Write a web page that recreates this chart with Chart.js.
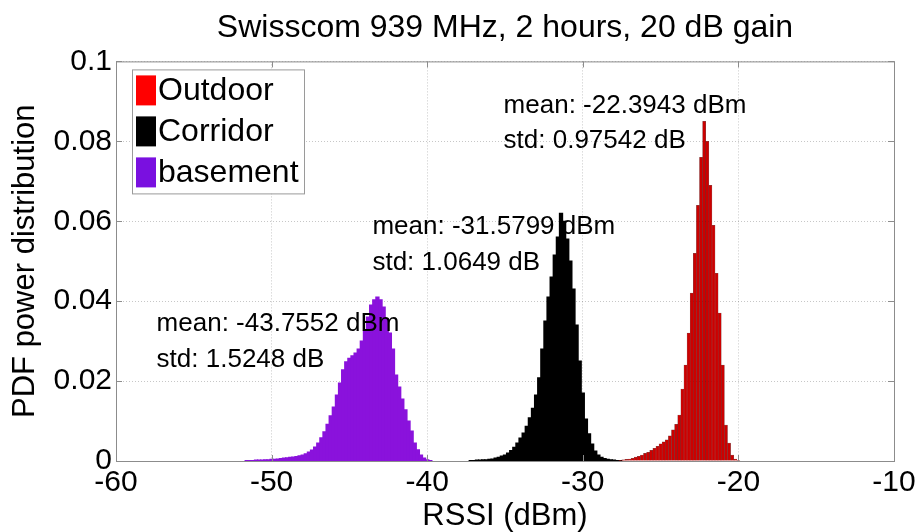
<!DOCTYPE html>
<html>
<head>
<meta charset="utf-8">
<script src="https://cdn.jsdelivr.net/npm/chart.js@4"></script>
<style>
  html, body { margin: 0; padding: 0; background: #fff; }
</style>
</head>
<body>
<canvas id="histChart" width="915" height="532"></canvas>
<script>
// === histogram data (PDF per 0.2 dB bin) ===
const binWidth = 0.2;
const seriesLabels = ['Outdoor', 'Corridor', 'basement'];
const seriesColors = ['#cc0000', '#000000', '#8a12dc'];
const legendColors = ['#ff0000', '#000000', '#7a10e0'];

// bin centres start at these values, one value per bin
const outdoorStart = -27.6;
const outdoorPdf = [
  0.0002, 0.0003, 0.0004, 0.0005, 0.0007, 0.0010, 0.0012, 0.0015, 0.0019, 0.0022,
  0.0027, 0.0032, 0.0037, 0.0043, 0.0048, 0.0053, 0.0063, 0.0078, 0.0092, 0.0115,
  0.0180, 0.0240, 0.0320, 0.0420, 0.0520, 0.0640, 0.0760, 0.0850, 0.0800, 0.0690,
  0.0590, 0.0470, 0.0370, 0.0240, 0.0090, 0.0045, 0.0015, 0.0005, 0.0002
];

const corridorStart = -37.2;
const corridorPdf = [
  0.0001, 0.0001, 0.0002, 0.0002, 0.0003, 0.0003, 0.0004, 0.0005, 0.0007, 0.0009,
  0.0012, 0.0015, 0.0020, 0.0026, 0.0034, 0.0045, 0.0057, 0.0070, 0.0087, 0.0108,
  0.0132, 0.0165, 0.0208, 0.0280, 0.0350, 0.0410, 0.0460, 0.0515, 0.0560, 0.0620,
  0.0600, 0.0555, 0.0500, 0.0430, 0.0340, 0.0250, 0.0170, 0.0105, 0.0068, 0.0042,
  0.0025, 0.0015, 0.0009, 0.0006, 0.0004, 0.0003, 0.0002, 0.0001, 0.0001
];

const basementStart = -51.6;
const basementPdf = [
  0.0001, 0.0001, 0.0001, 0.0002, 0.0002, 0.0002, 0.0003, 0.0003, 0.0004, 0.0004,
  0.0005, 0.0006, 0.0007, 0.0008, 0.0009, 0.0010, 0.0011, 0.0013, 0.0015, 0.0018,
  0.0022, 0.0027, 0.0035, 0.0045, 0.0058, 0.0073, 0.0092, 0.0113, 0.0135, 0.0165,
  0.0195, 0.0228, 0.0248, 0.0257, 0.0263, 0.0270, 0.0280, 0.0300, 0.0325, 0.0360,
  0.0390, 0.0403, 0.0410, 0.0403, 0.0385, 0.0355, 0.0320, 0.0280, 0.0215, 0.0185,
  0.0155, 0.0128, 0.0100, 0.0075, 0.0045, 0.0028, 0.0015, 0.0007, 0.0003, 0.0001
];

const xTickLabels = ['-60', '-50', '-40', '-30', '-20', '-10'];
const yTickLabels = ['0', '0.02', '0.04', '0.06', '0.08', '0.1'];

// text notes, anchored in data units (left edge, middle of line)
const notes = [
  { x: -35.09, y: 0.0888, text: 'mean: -22.3943 dBm' },
  { x: -35.09, y: 0.0800, text: 'std: 0.97542 dB' },
  { x: -43.52, y: 0.0585, text: 'mean: -31.5799 dBm' },
  { x: -43.52, y: 0.0496, text: 'std: 1.0649 dB' },
  { x: -57.39, y: 0.0343, text: 'mean: -43.7552 dBm' },
  { x: -57.39, y: 0.0253, text: 'std: 1.5248 dB' }
];

const FONT = "'Liberation Sans', Arial, sans-serif";
Chart.defaults.font.family = FONT;
Chart.defaults.color = '#000';

function toBins(start, values) {
  return values.map((v, i) => ({ x: +(start + i * binWidth).toFixed(1), y: v }));
}

// === axes frame + inward ticks (matlab style box) ===
const boxPlugin = {
  id: 'box',
  afterDatasetsDraw(chart) {
    const { ctx, chartArea: a, scales: { x, y } } = chart;
    ctx.save();
    ctx.strokeStyle = '#8c8c8c';
    ctx.lineWidth = 1;
    ctx.strokeRect(a.left + 0.5, a.top + 0.5, a.right - a.left, a.bottom - a.top);
    ctx.beginPath();
    x.ticks.forEach(t => {
      const px = Math.round(x.getPixelForValue(t.value)) + 0.5;
      ctx.moveTo(px, a.bottom); ctx.lineTo(px, a.bottom - 6);
      ctx.moveTo(px, a.top); ctx.lineTo(px, a.top + 6);
    });
    y.ticks.forEach(t => {
      const py = Math.round(y.getPixelForValue(t.value)) + 0.5;
      ctx.moveTo(a.left, py); ctx.lineTo(a.left + 6, py);
      ctx.moveTo(a.right, py); ctx.lineTo(a.right - 6, py);
    });
    ctx.stroke();

    // mean / std notes
    ctx.fillStyle = '#000';
    ctx.font = '26px ' + FONT;
    ctx.textAlign = 'left';
    ctx.textBaseline = 'middle';
    notes.forEach(n => ctx.fillText(n.text, x.getPixelForValue(n.x), y.getPixelForValue(n.y)));
    ctx.restore();
  }
};

// === legend box inside the axes, top-left ===
const boxLegend = {
  id: 'boxLegend',
  afterDraw(chart) {
    const { ctx, chartArea: a } = chart;
    const bx = a.left + 16, by = a.top + 8, bw = 172, bh = 124;
    ctx.save();
    ctx.fillStyle = '#fff';
    ctx.fillRect(bx, by, bw, bh);
    ctx.strokeStyle = '#9a9a9a';
    ctx.lineWidth = 1;
    ctx.strokeRect(bx + 0.5, by + 0.5, bw, bh);
    ctx.font = '32px ' + FONT;
    ctx.textBaseline = 'middle';
    chart.data.datasets.forEach((ds, i) => {
      const cy = by + 21 + i * 41;
      ctx.fillStyle = legendColors[i];
      ctx.fillRect(bx + 4, cy - 15, 20, 30);
      ctx.fillStyle = '#000';
      ctx.fillText(ds.label, bx + 26, cy + 1);
    });
    ctx.restore();
  }
};

const barCommon = { grouped: false, barPercentage: 1, categoryPercentage: 1 };

const histCtx = document.getElementById('histChart').getContext('2d');

const histChart = new Chart(histCtx, {
  type: 'bar',
  data: {
    datasets: [
      {
        ...barCommon,
        label: seriesLabels[0],
        data: toBins(outdoorStart, outdoorPdf),
        backgroundColor: seriesColors[0],
        borderColor: 'rgba(70,0,0,0.7)',
        borderWidth: 0.5,
        inflateAmount: 0.3
      },
      {
        ...barCommon,
        label: seriesLabels[1],
        data: toBins(corridorStart, corridorPdf),
        backgroundColor: seriesColors[1],
        borderWidth: 0,
        inflateAmount: 0.6
      },
      {
        ...barCommon,
        label: seriesLabels[2],
        data: toBins(basementStart, basementPdf),
        backgroundColor: seriesColors[2],
        borderWidth: 0,
        inflateAmount: 0.6
      }
    ]
  },
  options: {
    responsive: false,
    animation: false,
    layout: { padding: 0 },
    plugins: {
      legend: { display: false },
      tooltip: { enabled: false },
      title: {
        display: true,
        fullSize: false,
        text: 'Swisscom 939 MHz, 2 hours, 20 dB gain',
        color: '#000',
        font: { size: 32, weight: 'normal', lineHeight: 1.2 },
        padding: { top: 9, bottom: 14 }
      }
    },
    scales: {
      x: {
        type: 'linear',
        min: -60,
        max: -10,
        offset: false,
        ticks: {
          stepSize: 10,
          padding: 4,
          maxRotation: 0,
          font: { size: 30 },
          callback: (v, i) => xTickLabels[i]
        },
        grid: { offset: false, color: 'rgba(0,0,0,0.22)', drawTicks: false },
        border: { color: '#8c8c8c', dash: [1, 2] },
        title: {
          display: true,
          text: 'RSSI (dBm)',
          font: { size: 31, lineHeight: 1 },
          padding: 0
        },
        afterFit: s => { s.height = 71; s.paddingRight = 21; }
      },
      y: {
        min: 0,
        max: 0.1,
        ticks: {
          stepSize: 0.02,
          padding: 4,
          font: { size: 30 },
          callback: (v, i) => yTickLabels[i]
        },
        grid: { color: 'rgba(0,0,0,0.22)', drawTicks: false },
        border: { color: '#8c8c8c', dash: [1, 2] },
        title: {
          display: true,
          text: 'PDF power distribution',
          font: { size: 31, lineHeight: 1 },
          padding: { top: 9.5, bottom: 0 }
        },
        afterFit: s => { s.width = 116; }
      }
    }
  },
  plugins: [boxPlugin, boxLegend]
});
</script>
</body>
</html>
